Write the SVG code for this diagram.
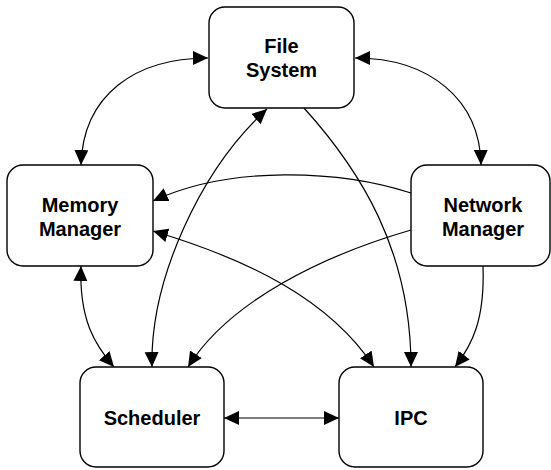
<svg xmlns="http://www.w3.org/2000/svg" width="551" height="470" viewBox="0 0 551 470">
<style>
.box{fill:#fff;stroke:#000;stroke-width:1.4}
.lbl{font-family:"Liberation Sans",Arial,sans-serif;font-weight:bold;font-size:20px;text-anchor:middle;fill:#000}
.c{fill:none;stroke:#000;stroke-width:1.2}
</style>
<defs>
<marker id="ah" markerUnits="userSpaceOnUse" markerWidth="17" markerHeight="15" refX="15" refY="7" orient="auto-start-reverse">
<path d="M0,0 L15,7 L0,14 z" fill="#000"/>
</marker>
</defs>
<rect width="551" height="470" fill="#fff"/>
<g id="connectors">
<path class="c" d="M81,165 C83,95 135,58 208,58" marker-start="url(#ah)" marker-end="url(#ah)"/>
<path class="c" d="M355,58 C430,58 480,100 481,165" marker-start="url(#ah)" marker-end="url(#ah)"/>
<path class="c" d="M411,193 C340,170 230,165 153,201" marker-end="url(#ah)"/>
<path class="c" d="M152,367 C150,280 200,170 267,109" marker-start="url(#ah)" marker-end="url(#ah)"/>
<path class="c" d="M153,231 C250,260 330,300 374,367" marker-start="url(#ah)" marker-end="url(#ah)"/>
<path class="c" d="M411,230 C325,255 230,300 188,367" marker-end="url(#ah)"/>
<path class="c" d="M304,108 C360,170 411,250 411,367" marker-end="url(#ah)"/>
<path class="c" d="M483,266 C485,320 472,345 455,367" marker-end="url(#ah)"/>
<path class="c" d="M81,266 C79,320 95,345 114,367" marker-start="url(#ah)" marker-end="url(#ah)"/>
<path class="c" d="M224,418 L339,418" marker-start="url(#ah)" marker-end="url(#ah)"/>
</g>
<g id="file-system">
<rect class="box" x="209" y="7" width="145" height="101" rx="16"/>
<text class="lbl" x="281.5" y="53">File</text>
<text class="lbl" x="281.5" y="77">System</text>
</g>
<g id="memory-manager">
<rect class="box" x="7" y="165" width="146" height="101" rx="16"/>
<text class="lbl" x="80" y="212">Memory</text>
<text class="lbl" x="80" y="236">Manager</text>
</g>
<g id="network-manager">
<rect class="box" x="411" y="165" width="139" height="101" rx="16"/>
<text class="lbl" x="483" y="212">Network</text>
<text class="lbl" x="483" y="236">Manager</text>
</g>
<g id="scheduler">
<rect class="box" x="80" y="367" width="144" height="100" rx="16"/>
<text class="lbl" x="152" y="425">Scheduler</text>
</g>
<g id="ipc">
<rect class="box" x="339" y="367" width="144" height="100" rx="16"/>
<text class="lbl" x="411" y="425">IPC</text>
</g>
</svg>
